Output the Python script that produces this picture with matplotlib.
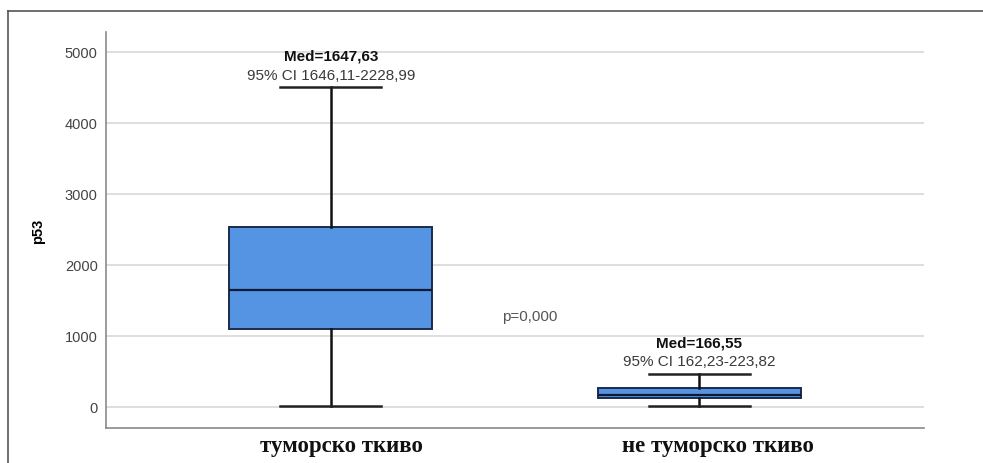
import matplotlib.pyplot as plt
from matplotlib.lines import Line2D

# values
groups = ['туморско ткиво', 'не туморско ткиво']
medians = [1647.63, 166.55]
q1 = [1095, 127]
q3 = [2535, 268]
whis_lo = [10, 12]
whis_hi = [4505, 465]
med_labels = ['Med=1647,63', 'Med=166,55']
ci_labels = ['95% CI 1646,11-2228,99', '95% CI 162,23-223,82']
p_label = 'p=0,000'

W, H = 983, 464
fig = plt.figure(figsize=(W / 100, H / 100), dpi=100)
ax = fig.add_axes([106 / W, (H - 429) / H, (924 - 106) / W, (429 - 33) / H])

stats = [dict(med=m, q1=a, q3=b, whislo=lo, whishi=hi, fliers=[], label=g)
         for g, m, a, b, lo, hi in zip(groups, medians, q1, q3, whis_lo, whis_hi)]

edge = '#1b2b4b'
ax.bxp(stats, positions=[0, 1], widths=0.55, patch_artist=True,
       showfliers=False,
       boxprops=dict(facecolor='#5593e3', edgecolor=edge, linewidth=1.4),
       medianprops=dict(color='#0d1a33', linewidth=1.6),
       whiskerprops=dict(color='#111111', linewidth=1.8),
       capprops=dict(color='#222222', linewidth=1.8),
       capwidths=0.275, zorder=3)

ax.set_xlim(-0.61, 1.61)
ax.set_ylim(-296, 5280)
ax.set_yticks([0, 1000, 2000, 3000, 4000, 5000])
ax.yaxis.grid(True, color='#d8d8d8', linewidth=1.2, zorder=0)
ax.set_axisbelow(True)
for s in ('top', 'right'):
    ax.spines[s].set_visible(False)
for s in ('left', 'bottom'):
    ax.spines[s].set_color('#8a8a8a')
    ax.spines[s].set_linewidth(1.2)
ax.tick_params(axis='both', length=0)
ax.tick_params(axis='y', labelsize=10.5, labelcolor='#444444', pad=6)
ax.set_xticks([0.03, 1.05])
ax.set_xticklabels(groups, family='Liberation Serif', fontweight='bold',
                   fontsize=16.5, color='#111111')
ax.tick_params(axis='x', pad=5)
for t in ax.get_yticklabels():
    t.set_family('Liberation Sans')

ax.set_ylabel('p53', family='Liberation Sans', fontweight='bold',
              fontsize=10.5, labelpad=14)

for i in range(len(groups)):
    ax.annotate(med_labels[i], (i, whis_hi[i]), xytext=(0, 23),
                textcoords='offset points', ha='center', va='center',
                family='Liberation Sans', fontweight='bold', fontsize=11,
                color='#111111')
    ax.annotate(ci_labels[i], (i, whis_hi[i]), xytext=(0, 9),
                textcoords='offset points', ha='center', va='center',
                family='Liberation Sans', fontsize=11, color='#3a3a3a')

ax.text(0.465, 1282, p_label, ha='left', va='center',
        family='Liberation Sans', fontsize=11, color='#555555')

# outer frame (top and left edges only)
fig.add_artist(Line2D([8 / W, 1], [1 - 12 / H] * 2, color='#555555', lw=1.2))
fig.add_artist(Line2D([8 / W] * 2, [0, 1 - 12 / H], color='#555555', lw=1.2))

fig.savefig('out.png', dpi=100)
